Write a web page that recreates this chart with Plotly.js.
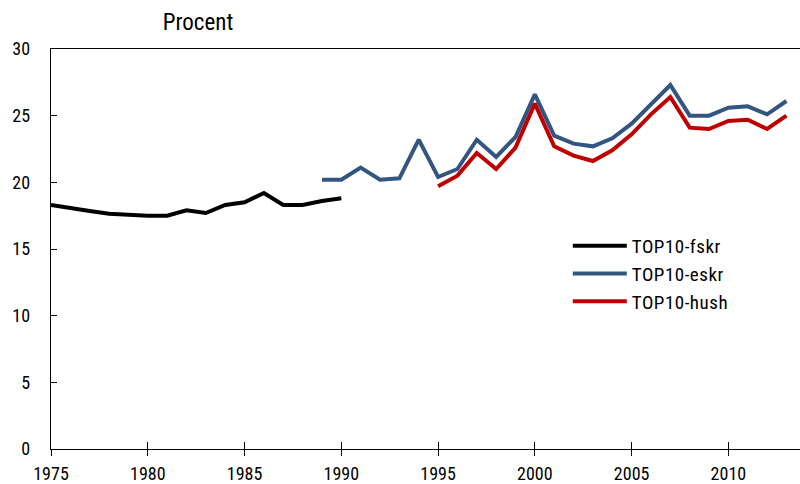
<!DOCTYPE html>
<html>
<head>
<meta charset="utf-8">
<script src="https://cdn.plot.ly/plotly-3.0.1.min.js"></script>
<style>html,body{margin:0;padding:0;background:#fff;}#chart{width:800px;height:484px;}
.legendtext{letter-spacing:0.5px;}</style>
</head>
<body>
<div id="chart"></div>
<script>
var yearsFskr = [1975,1976,1977,1978,1979,1980,1981,1982,1983,1984,1985,1986,1987,1988,1989,1990];
var fskr = [18.3,18.05,17.85,17.65,17.55,17.5,17.5,17.9,17.7,18.3,18.5,19.2,18.3,18.3,18.6,18.8];

var yearsEskr = [1989,1990,1991,1992,1993,1994,1995,1996,1997,1998,1999,2000,2001,2002,2003,2004,2005,2006,2007,2008,2009,2010,2011,2012,2013];
var eskr = [20.2,20.2,21.1,20.2,20.3,23.2,20.4,21.0,23.2,21.9,23.4,26.6,23.5,22.9,22.7,23.3,24.4,25.8,27.3,25.0,25.0,25.6,25.7,25.1,26.1];

var yearsHush = [1995,1996,1997,1998,1999,2000,2001,2002,2003,2004,2005,2006,2007,2008,2009,2010,2011,2012,2013];
var hush = [19.7,20.5,22.2,21.0,22.6,25.9,22.7,22.0,21.6,22.4,23.6,25.1,26.4,24.1,24.0,24.6,24.7,24.0,25.0];

var seriesNames = ['TOP10-fskr','TOP10-eskr','TOP10-hush'];
var xTicks = [1975,1980,1985,1990,1995,2000,2005,2010];
var yTicks = [0,5,10,15,20,25,30];

var FONT = '"Roboto Condensed", "DejaVu Sans Condensed", sans-serif';

var traces = [
  {x: yearsFskr, y: fskr, name: seriesNames[0], type: 'scatter', mode: 'lines', line: {color: '#000000', width: 4}},
  {x: yearsEskr, y: eskr, name: seriesNames[1], type: 'scatter', mode: 'lines', line: {color: '#335681', width: 4}},
  {x: yearsHush, y: hush, name: seriesNames[2], type: 'scatter', mode: 'lines', line: {color: '#C00000', width: 4}},
  {x: [xTicks[0]], y: [null], xaxis: 'x2', yaxis: 'y', showlegend: false, hoverinfo: 'skip', type: 'scatter', mode: 'lines'}
];

var layout = {
  width: 800, height: 484,
  margin: {l: 51, r: 0, t: 49, b: 35, pad: 0},
  paper_bgcolor: '#ffffff', plot_bgcolor: '#ffffff',
  font: {family: FONT, size: 18, color: '#000000'},
  showlegend: true,
  title: {text: 'Procent', x: 0.2475, xanchor: 'center', xref: 'container', y: 0.955, yanchor: 'middle', yref: 'container', font: {family: FONT, size: 23, color: '#000'}},
  xaxis: {
    range: [1975, 2013.7], tickvals: xTicks, ticktext: xTicks.map(String),
    showgrid: false, zeroline: false, showline: true, linecolor: '#000', linewidth: 1.3, mirror: true,
    ticks: 'inside', ticklen: 7, tickcolor: '#000', tickwidth: 1,
    ticklabelstandoff: 8, tickfont: {family: FONT, size: 18, color: '#000'}
  },
  xaxis2: {
    overlaying: 'x', matches: 'x', range: [1975, 2013.7], tickvals: xTicks, side: 'bottom',
    showticklabels: false, showgrid: false, zeroline: false, showline: false,
    ticks: 'outside', ticklen: 6, tickcolor: '#000', tickwidth: 1
  },
  yaxis: {
    range: [0, 30], tickvals: yTicks, ticktext: yTicks.map(String),
    showgrid: false, zeroline: false, showline: true, linecolor: '#000', linewidth: 1.3,
    ticks: 'inside', ticklen: 6, tickcolor: '#000', tickwidth: 1,
    ticklabelstandoff: 16, tickfont: {family: FONT, size: 18, color: '#000'}
  },
  legend: {
    x: 0.69, y: 0.555, xanchor: 'left', yanchor: 'top', xref: 'paper', yref: 'paper',
    bgcolor: 'rgba(0,0,0,0)', borderwidth: 0, tracegroupgap: 0,
    font: {family: FONT, size: 19, color: '#000'}, itemwidth: 54
  }
};

Plotly.newPlot('chart', traces, layout, {staticPlot: true, displayModeBar: false});
</script>
</body>
</html>
